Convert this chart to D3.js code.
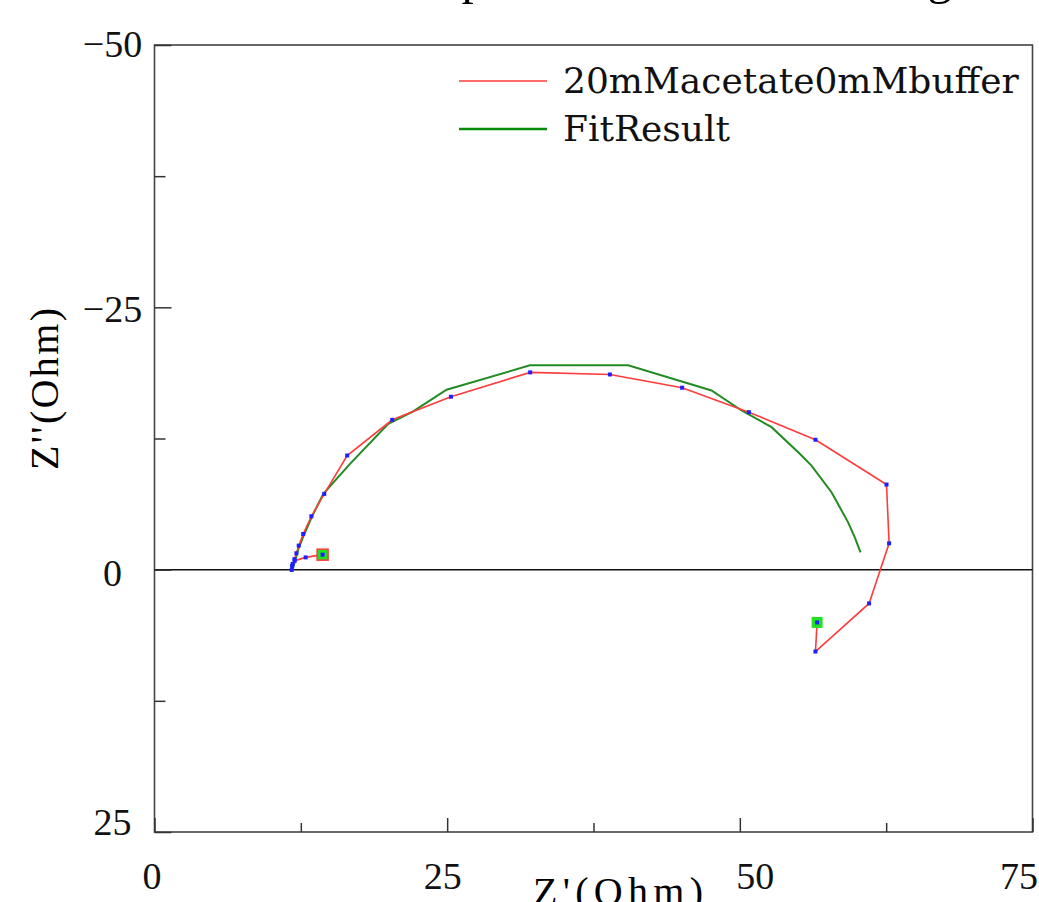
<!DOCTYPE html>
<html>
<head>
<meta charset="utf-8">
<script src="https://cdn.jsdelivr.net/npm/d3@7"></script>
<style>
  body { margin: 0; background: #fff; }
  svg { display: block; }
</style>
</head>
<body>
<div id="chart"></div>
<script>
const seriesNames = ['20mMacetate0mMbuffer', 'FitResult'];

const measZre = [14.36, 12.91, 11.98, 11.75, 11.72, 11.80, 11.95, 12.12, 12.32, 12.70, 13.40, 14.50,
                 16.46, 20.31, 25.32, 32.09, 38.90, 45.07, 50.77, 56.46, 62.53, 62.75, 61.04, 56.46, 56.60];
const measZim = [-1.43, -1.17, -0.85, -0.35, 0.03, -0.55, -1.00, -1.56, -2.29, -3.40, -5.09, -7.22,
                 -10.88, -14.28, -16.48, -18.80, -18.60, -17.34, -15.01, -12.38, -8.11, -2.51, 3.22, 7.80, 5.03];

const fitZre = [11.80, 12.30, 12.80, 13.42, 14.42, 16.70, 19.97, 22.10, 24.95, 32.07, 40.46,
                47.58, 50.15, 52.71, 55.12, 56.12, 57.83, 59.25, 59.82, 60.31];
const fitZim = [0.00, -2.00, -3.40, -4.99, -7.22, -10.08, -13.90, -15.08, -17.15, -19.47, -19.47,
                -17.08, -15.17, -13.58, -11.04, -9.92, -7.38, -4.51, -3.08, -1.65];

const xTicks = [0, 25, 50, 75];
const xMinor = [12.5, 37.5, 62.5];
const yTicks = [-50, -25, 0, 25];
const yMinor = [-37.5, -12.5, 12.5];

const width = 1039;
const height = 902;
const plotLeft = 154.5, plotRight = 1032.5, plotTop = 45, plotBottom = 832;

const xScale = d3.scaleLinear().domain([0, 75]).range([plotLeft, plotRight]);
const yScale = d3.scaleLinear().domain([-50, 25]).range([plotTop, plotBottom]);

const svg = d3.select('#chart')
    .append('svg')
        .attr('width', width)
        .attr('height', height);

// title, mostly cut off above the page (only descenders show)
svg.append('text')
    .attr('x', 407)
    .attr('y', -6)
    .attr('font-family', 'Liberation Serif')
    .attr('font-size', 49)
    .attr('textLength', 545)
    .text('Impedance Data and Fitting');

// frame
svg.append('rect')
    .attr('x', plotLeft)
    .attr('y', plotTop)
    .attr('width', plotRight - plotLeft)
    .attr('height', plotBottom - plotTop)
    .attr('fill', 'none')
    .attr('stroke', '#444')
    .attr('stroke-width', 1.6);

// zero line
svg.append('line')
    .attr('x1', plotLeft).attr('x2', plotRight)
    .attr('y1', yScale(0)).attr('y2', yScale(0))
    .attr('stroke', '#111')
    .attr('stroke-width', 1.5);

const fmt = d => d < 0 ? '\u2212' + Math.abs(d) : String(d);

// x axis (ticks point inwards)
const xAxis = svg.append('g')
    .attr('transform', `translate(0, ${plotBottom})`)
    .call(d3.axisBottom(xScale).tickValues(xTicks).tickSize(-14).tickPadding(0).tickFormat(fmt));
svg.append('g')
    .attr('transform', `translate(0, ${plotBottom})`)
    .call(d3.axisBottom(xScale).tickValues(xMinor).tickSize(-9).tickFormat(''));

const xShift = [-3, -5, 15, -14];
xAxis.selectAll('.tick text')
    .attr('y', 57)
    .attr('dy', 0)
    .attr('dx', (d, i) => xShift[i]);

// y axis
const yAxis = svg.append('g')
    .attr('transform', `translate(${plotLeft}, 0)`)
    .call(d3.axisLeft(yScale).tickValues(yTicks).tickSize(-17).tickFormat(fmt));
svg.append('g')
    .attr('transform', `translate(${plotLeft}, 0)`)
    .call(d3.axisLeft(yScale).tickValues(yMinor).tickSize(-11).tickFormat(''));

const yShift = [-2, 1, 3, -11];
yAxis.selectAll('.tick text')
    .attr('x', -42)
    .attr('text-anchor', 'middle')
    .attr('dy', (d, i) => (yShift[i] + 13) + 'px');

svg.selectAll('.domain').remove();
svg.selectAll('.tick line').attr('stroke', '#333').attr('stroke-width', 1.5);
svg.selectAll('.tick text')
    .attr('font-family', 'Liberation Serif')
    .attr('font-size', 38)
    .attr('fill', '#111');

// axis titles
svg.append('text')
    .attr('x', 618)
    .attr('y', 905)
    .attr('text-anchor', 'middle')
    .attr('font-family', 'Liberation Serif')
    .attr('font-size', 40)
    .attr('textLength', 170)
    .text("Z'(Ohm)");

svg.append('text')
    .attr('transform', 'translate(58, 389) rotate(-90)')
    .attr('text-anchor', 'middle')
    .attr('font-family', 'Liberation Serif')
    .attr('font-size', 40)
    .attr('textLength', 162)
    .text("Z''(Ohm)");

const meas = measZre.map((d, i) => [d, measZim[i]]);
const fit = fitZre.map((d, i) => [d, fitZim[i]]);

const line = d3.line()
    .x(d => xScale(d[0]))
    .y(d => yScale(d[1]));

svg.append('path')
    .datum(fit)
    .attr('d', line)
    .attr('fill', 'none')
    .attr('stroke', '#228b22')
    .attr('stroke-width', 2);

svg.append('path')
    .datum(meas)
    .attr('d', line)
    .attr('fill', 'none')
    .attr('stroke', '#ff3b3b')
    .attr('stroke-width', 1.6);

// start / end markers
svg.selectAll('rect.ends')
    .data([meas[0], meas[meas.length - 1]])
    .enter()
        .append('rect')
            .attr('class', 'ends')
            .attr('x', d => xScale(d[0]) - 5.5)
            .attr('y', d => yScale(d[1]) - 5.5)
            .attr('width', 11)
            .attr('height', 11)
            .attr('fill', '#22e022')
            .attr('stroke', (d, i) => i === 0 ? '#ff3b3b' : 'none')
            .attr('stroke-width', 1.5);

svg.selectAll('rect.pt')
    .data(meas)
    .enter()
        .append('rect')
            .attr('class', 'pt')
            .attr('x', d => xScale(d[0]) - 2)
            .attr('y', d => yScale(d[1]) - 2)
            .attr('width', 4)
            .attr('height', 4)
            .attr('fill', '#1f1fff');

// legend
const legendColours = ['#ff3b3b', '#0a8a0a'];
const legend = svg.selectAll('g.legend')
    .data(seriesNames)
    .enter()
        .append('g')
            .attr('class', 'legend')
            .attr('transform', (d, i) => `translate(459, ${81 + i * 48})`);

legend.append('line')
    .attr('x1', 0).attr('x2', 88)
    .attr('stroke', (d, i) => legendColours[i])
    .attr('stroke-width', (d, i) => i === 0 ? 1.5 : 2.5);

legend.append('text')
    .attr('x', 104)
    .attr('y', 12)
    .attr('font-family', 'DejaVu Serif')
    .attr('font-size', 36)
    .attr('fill', '#111')
    .text(d => d);
</script>
</body>
</html>
